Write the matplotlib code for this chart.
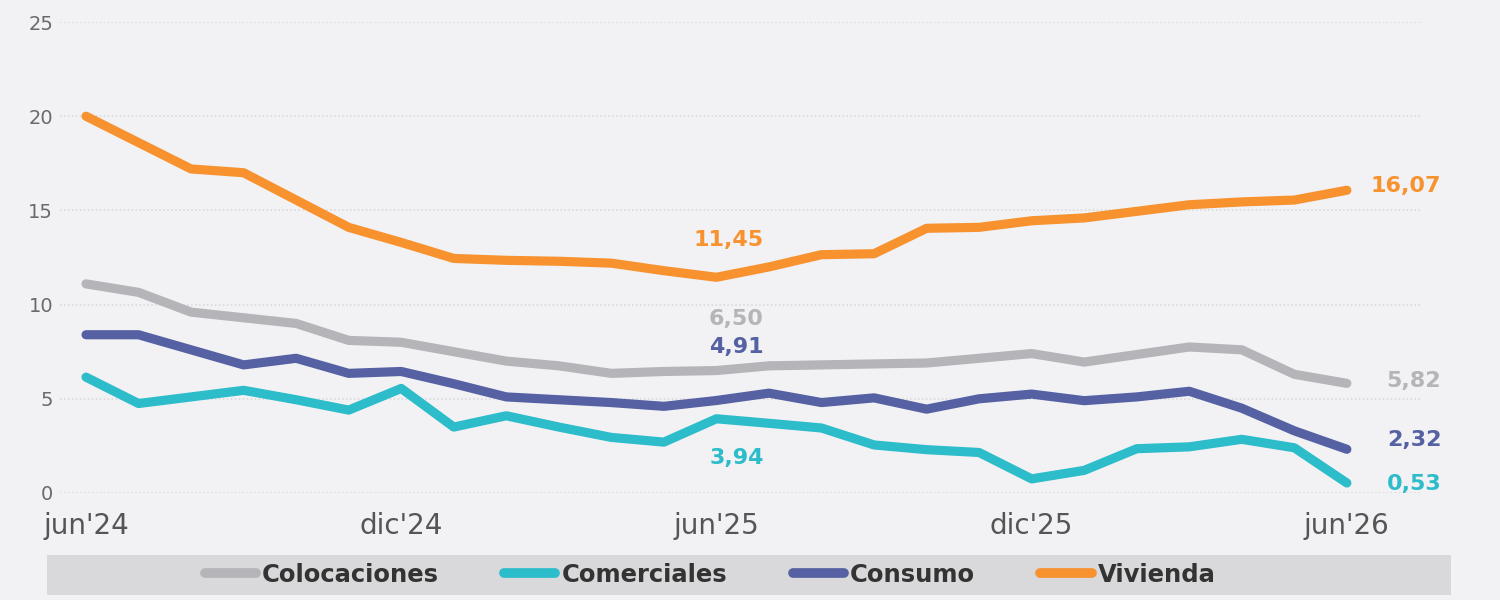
import matplotlib
matplotlib.use("Agg")
import matplotlib.pyplot as plt
from matplotlib.patches import Rectangle

# ---- data ----
months = list(range(25))  # jun'24 .. jun'26
tick_pos = [0, 6, 12, 18, 24]
tick_labels = ["jun'24", "dic'24", "jun'25", "dic'25", "jun'26"]
yticks = [0, 5, 10, 15, 20, 25]

colocaciones = [11.1, 10.65, 9.6, 9.3, 9.0, 8.1, 8.0, 7.5, 7.0, 6.75, 6.35, 6.45,
                6.50, 6.75, 6.8, 6.85, 6.9, 7.15, 7.4, 6.95, 7.35, 7.75, 7.6, 6.3, 5.82]
comerciales = [6.15, 4.75, 5.1, 5.45, 4.95, 4.4, 5.55, 3.5, 4.1, 3.5, 2.95, 2.7,
               3.94, 3.7, 3.45, 2.55, 2.3, 2.15, 0.75, 1.2, 2.35, 2.45, 2.85, 2.4, 0.53]
consumo = [8.4, 8.4, 7.6, 6.8, 7.15, 6.35, 6.45, 5.8, 5.1, 4.95, 4.8, 4.6,
           4.91, 5.3, 4.8, 5.05, 4.45, 5.0, 5.25, 4.9, 5.1, 5.4, 4.5, 3.3, 2.32]
vivienda = [20.0, 18.6, 17.2, 17.0, 15.55, 14.1, 13.3, 12.45, 12.35, 12.3, 12.2, 11.8,
            11.45, 12.0, 12.65, 12.7, 14.05, 14.1, 14.45, 14.6, 14.95, 15.3, 15.45, 15.55, 16.07]

series_names = ["Colocaciones", "Comerciales", "Consumo", "Vivienda"]
series_vals = [colocaciones, comerciales, consumo, vivienda]
colors = ["#b4b4b9", "#2cbcca", "#5561a2", "#f7922f"]

BG = "#f2f2f4"
fig = plt.figure(figsize=(15, 6), dpi=100, facecolor=BG)
ax = fig.add_axes([60/1500, 1-493/600, (1422-60)/1500, (493-22)/600])
ax.set_facecolor(BG)

lines = []
for name, vals, c in zip(series_names, series_vals, colors):
    ln, = ax.plot(months, vals, color=c, lw=6.6, solid_capstyle="round",
                  solid_joinstyle="round", label=name, clip_on=False, zorder=3)
    lines.append(ln)

ax.set_ylim(0, 25)
ax.set_xlim(-0.495, 25.43)
ax.set_yticks(yticks)
ax.set_yticklabels([str(v) for v in yticks])
ax.set_xticks(tick_pos)
ax.set_xticklabels(tick_labels)
ax.tick_params(axis="y", length=0, pad=5, labelsize=14, labelcolor="#6a6a6a")
ax.tick_params(axis="x", length=0, pad=14, labelsize=20, labelcolor="#555555")
ax.grid(axis="y", color="#d6d6d9", lw=1.1, ls=(0, (1, 1.6)), zorder=0)
ax.grid(axis="x", visible=False)
for s in ax.spines.values():
    s.set_visible(False)

# middle labels at jun'25
mid = 12
mid_offsets = [37.1, -27.9, 38.2, 27.2]
for vals, c, dy in zip(series_vals, colors, mid_offsets):
    ax.annotate(f"{vals[mid]:.2f}".replace(".", ","), xy=(mid, vals[mid]),
                xytext=(34, dy), textcoords="offset points", ha="right", va="center",
                fontsize=16, fontweight="bold", color=c, family="DejaVu Sans")

# end labels
end_offsets = [1.4, -0.7, 6.7, 3.4]
for vals, c, dy in zip(series_vals, colors, end_offsets):
    ax.annotate(f"{vals[-1]:.2f}".replace(".", ","), xy=(24, vals[-1]),
                xytext=(68, dy), textcoords="offset points", ha="right", va="center",
                fontsize=16, fontweight="bold", color=c, family="DejaVu Sans",
                annotation_clip=False)

# legend band
fig.patches.append(Rectangle((47/1500, 1-595/600), (1451-47)/1500, 40/600,
                             transform=fig.transFigure, facecolor="#d9d9db",
                             edgecolor="none", zorder=0))
leg = fig.legend(handles=lines, labels=series_names, loc="center",
                 bbox_to_anchor=(710/1500, 1-575/600), ncol=4, frameon=False,
                 handlelength=2.1, handletextpad=0.25, columnspacing=2.7,
                 prop={"family": "DejaVu Sans", "weight": "bold", "size": 17.5})
for t in leg.get_texts():
    t.set_color("#333333")
for h in leg.legend_handles:
    h.set_linewidth(7)
    h.set_solid_capstyle("round")

fig.savefig("out.png", dpi=100, facecolor=BG)
